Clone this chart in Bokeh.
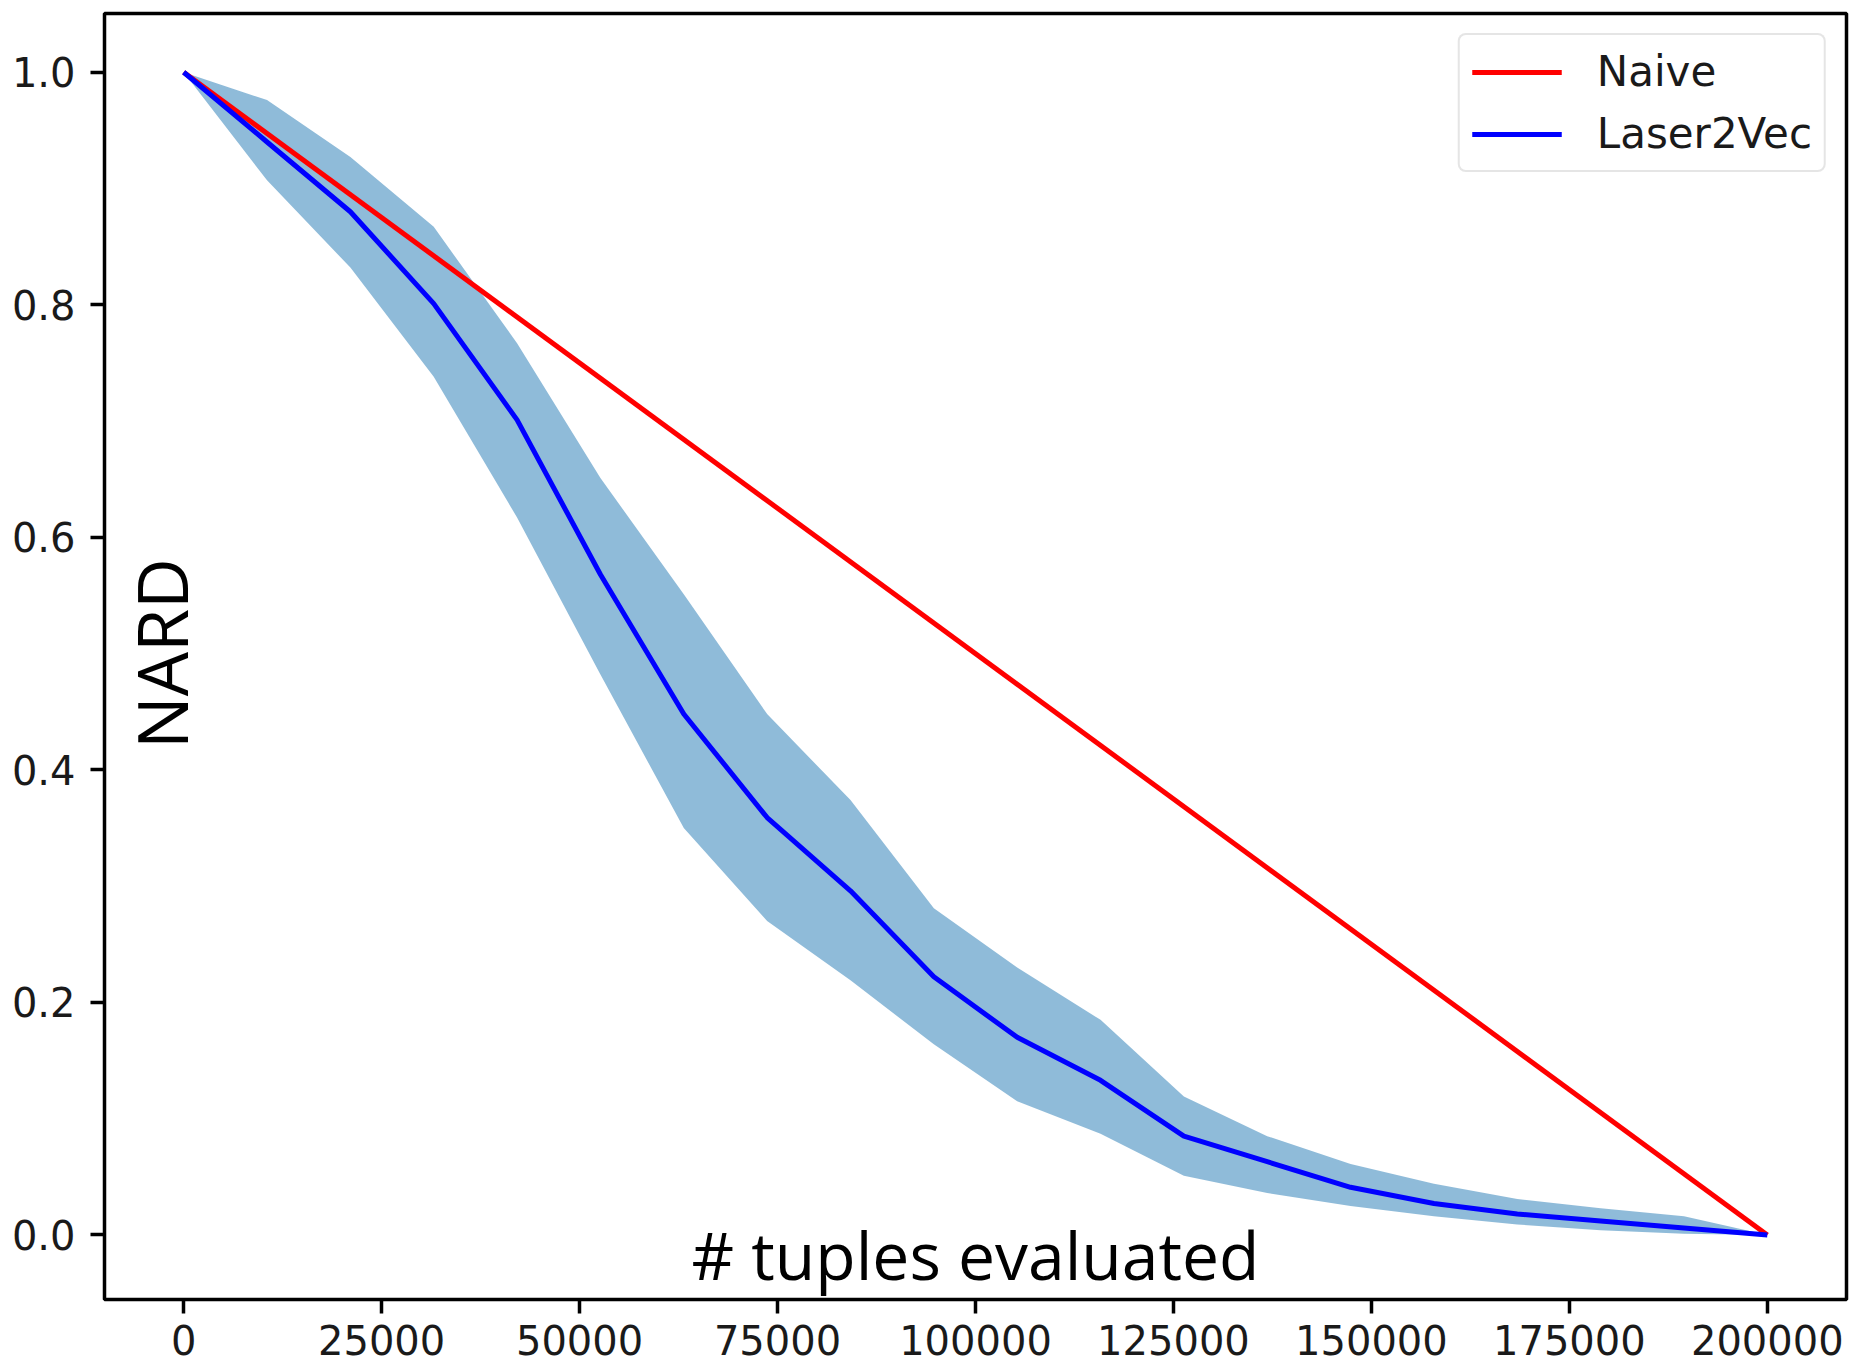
import math
from bokeh.plotting import figure
from bokeh.models import (Range1d, FixedTicker, PrintfTickFormatter, Label,
                          Legend, LegendItem)
from bokeh.embed import file_html
from bokeh.resources import INLINE

# ---- data ----
tuples = [0, 10526, 21053, 31579, 42105, 52632, 63158, 73684, 84211, 94737,
          105263, 115789, 126316, 136842, 147368, 157895, 168421, 178947,
          189474, 200000]
laser_mean = [1.0, 0.940, 0.880, 0.801, 0.701, 0.568, 0.448, 0.359, 0.296,
              0.222, 0.170, 0.133, 0.085, 0.063, 0.041, 0.027, 0.018, 0.012,
              0.006, 0.0]
laser_upper = [1.0, 0.976, 0.927, 0.867, 0.767, 0.651, 0.551, 0.448, 0.374,
               0.281, 0.230, 0.185, 0.119, 0.085, 0.061, 0.044, 0.031, 0.023,
               0.016, 0.0]
laser_lower = [1.0, 0.907, 0.832, 0.738, 0.617, 0.482, 0.350, 0.270, 0.219,
               0.164, 0.115, 0.087, 0.051, 0.036, 0.025, 0.016, 0.009, 0.004,
               0.001, 0.0]
naive_x = [0, 200000]
naive_y = [1.0, 0.0]

x_ticks = [0, 25000, 50000, 75000, 100000, 125000, 150000, 175000, 200000]
y_ticks = [0.0, 0.2, 0.4, 0.6, 0.8, 1.0]
series_names = ["Naive", "Laser2Vec"]
x_title = "# tuples evaluated"
y_title = "NARD"

TICK_FONT = "DejaVu Sans"
TICK_SIZE = "40px"

p = figure(width=1856, height=1366, output_backend="svg", toolbar_location=None,
           x_range=Range1d(-10000, 210000), y_range=Range1d(-0.0555, 1.0505),
           min_border_left=104, min_border_top=13, min_border_right=10,
           min_border_bottom=67)
p.background_fill_color = "white"
p.border_fill_color = "white"
p.outline_line_color = "black"
p.outline_line_width = 3.5
p.xgrid.visible = False
p.ygrid.visible = False

for ax in (p.xaxis[0], p.yaxis[0]):
    ax.axis_line_color = None
    ax.major_tick_in = 0
    ax.major_tick_out = 14
    ax.major_tick_line_width = 3.5
    ax.major_tick_line_color = "black"
    ax.minor_tick_line_color = None
    ax.major_label_text_font = TICK_FONT
    ax.major_label_text_font_size = TICK_SIZE
    ax.major_label_text_color = "#1a1a1a"

p.xaxis[0].ticker = FixedTicker(ticks=x_ticks)
p.xaxis[0].formatter = PrintfTickFormatter(format="%d")
p.xaxis[0].major_label_standoff = 11
p.yaxis[0].ticker = FixedTicker(ticks=y_ticks)
p.yaxis[0].formatter = PrintfTickFormatter(format="%.1f")
p.yaxis[0].major_label_standoff = 15

band = p.varea(x=tuples, y1=laser_lower, y2=laser_upper,
               fill_color="#1f77b4", fill_alpha=0.5)
r_naive = p.line(naive_x, naive_y, line_color="#ff0000", line_width=5)
r_laser = p.line(tuples, laser_mean, line_color="#0000ff", line_width=5)

legend = Legend(items=[LegendItem(label=series_names[0], renderers=[r_naive]),
                       LegendItem(label=series_names[1], renderers=[r_laser])],
                location="top_right")
legend.margin = 20
legend.padding = 12
legend.spacing = 13
legend.glyph_width = 90
legend.glyph_height = 40
legend.label_height = 40
legend.label_standoff = 35
legend.label_text_font = TICK_FONT
legend.label_text_font_size = "42px"
legend.label_text_color = "#1a1a1a"
legend.border_line_color = "#cccccc"
legend.border_line_width = 2.5
legend.background_fill_color = "white"
legend.background_fill_alpha = 0.8
if "border_radius" in legend.properties():
    legend.border_radius = 8
p.add_layout(legend)

p.add_layout(Label(x=100000, y=-0.0165, text=x_title, text_align="center",
                   text_baseline="alphabetic", text_font="Open Sans",
                   text_font_size="66px", text_color="black"))
p.add_layout(Label(x=-2890, y=0.5, text=y_title, angle=math.pi / 2,
                   text_align="center", text_baseline="alphabetic",
                   text_font="Open Sans", text_font_size="70px",
                   text_color="black"))

open("out.html", "w").write(file_html(p, INLINE))
